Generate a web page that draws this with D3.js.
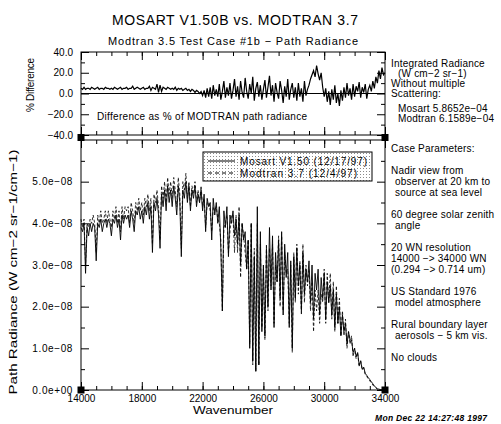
<!DOCTYPE html>
<html>
<head>
<meta charset="utf-8">
<script src="https://cdn.jsdelivr.net/npm/d3@7"></script>
<style>
	body { margin: 0; background: #fff; }
	svg { display: block; font-family: "Liberation Sans", Arial, sans-serif; }
</style>
</head>
<body>
<svg id="chart" width="501" height="424"></svg>
<script>
"use strict";

// spectral grid, 100 WN steps from 14000 to 34000
var wavenumbers = d3.range(14000, 34001, 100);

// path radiance, units of 1e-8 W cm-2 sr-1/cm-1
var mosart = [
	3.9, 3.8, 4.0, 2.8, 3.9, 3.7, 4.0, 3.8, 4.0, 3.9,
	3.1, 4.0, 3.9, 4.1, 3.8, 4.0, 4.1, 3.9, 4.1, 4.0,
	3.7, 4.1, 4.0, 4.2, 3.9, 4.1, 3.6, 4.2, 4.0, 4.2,
	4.1, 4.2, 3.9, 4.3, 4.1, 3.8, 4.3, 4.2, 4.4, 4.1,
	4.3, 4.0, 4.4, 4.2, 4.5, 4.1, 4.4, 3.3, 4.5, 4.3,
	4.6, 4.2, 3.4, 4.7, 4.4, 4.8, 4.3, 4.9, 4.5, 4.8,
	4.4, 4.9, 4.6, 4.2, 4.9, 4.5, 3.2, 4.8, 4.6, 5.0,
	4.5, 4.9, 4.3, 4.8, 4.6, 4.9, 4.4, 4.7, 4.5, 4.8,
	4.3, 4.7, 3.8, 4.6, 4.4, 4.5, 3.6, 4.6, 4.2, 4.5,
	4.0, 4.4, 3.4, 1.9, 4.3, 3.9, 4.4, 3.2, 4.2, 4.0,
	4.3, 3.7, 4.1, 3.5, 4.2, 3.0, 4.0, 3.6, 3.8, 2.9,
	3.6, 1.0, 4.0, 0.7, 3.2, 0.45, 4.4, 0.6, 3.8, 1.4,
	3.0, 1.3, 3.4, 2.0, 3.9, 2.4, 3.7, 1.5, 3.3, 2.6,
	3.6, 2.2, 3.8, 1.8, 3.5, 2.7, 3.3, 1.5, 3.1, 1.0,
	3.2, 2.2, 3.4, 2.5, 3.0, 1.9, 3.3, 2.3, 2.9, 2.6,
	3.1, 2.1, 3.0, 1.7, 2.8, 2.4, 2.9, 1.8, 2.7, 2.2,
	2.8, 1.7, 2.6, 2.1, 2.5, 1.8, 2.4, 1.5, 2.3, 1.6,
	2.0, 1.3, 1.8, 1.4, 1.6, 1.1, 1.4, 1.2, 1.2, 0.9,
	1.0, 0.8, 0.9, 0.6, 0.7, 0.5, 0.55, 0.4, 0.35, 0.3,
	0.25, 0.2, 0.15, 0.1, 0.06, 0.03, 0.02, 0.01, 0.0, 0.0,
	0.0
];
var modtran = [
	4.1, 3.9, 4.1, 3.0, 4.0, 3.9, 4.1, 4.0, 4.2, 4.0,
	3.3, 4.2, 4.0, 4.3, 4.0, 4.1, 4.3, 4.0, 4.3, 4.1,
	3.9, 4.3, 4.1, 4.4, 4.0, 4.3, 3.8, 4.4, 4.1, 4.4,
	4.3, 4.4, 4.0, 4.5, 4.3, 4.0, 4.5, 4.3, 4.6, 4.3,
	4.5, 4.2, 4.6, 4.4, 4.7, 4.3, 4.6, 3.5, 4.7, 4.5,
	4.8, 4.4, 3.6, 4.9, 4.6, 5.0, 4.5, 5.1, 4.7, 5.0,
	4.6, 5.1, 4.8, 4.4, 5.1, 4.7, 3.4, 5.0, 4.8, 5.2,
	4.6, 5.0, 4.4, 4.9, 4.7, 5.0, 4.5, 4.8, 4.5, 4.9,
	4.4, 4.6, 3.9, 4.5, 4.5, 4.3, 3.8, 4.4, 4.3, 4.4,
	4.1, 4.0, 3.6, 1.9, 3.9, 4.0, 4.2, 3.3, 3.8, 4.2,
	4.2, 3.3, 4.2, 3.3, 4.4, 2.7, 4.0, 3.7, 3.3, 2.9,
	3.6, 1.1, 4.0, 0.6, 3.4, 0.45, 4.0, 0.6, 3.5, 1.5,
	2.9, 1.2, 3.5, 1.9, 3.4, 2.5, 3.5, 1.6, 3.0, 2.6,
	3.7, 2.0, 3.7, 1.9, 3.3, 2.8, 2.9, 1.6, 3.0, 0.9,
	3.3, 2.1, 3.5, 2.3, 3.1, 1.8, 3.5, 2.1, 3.0, 2.5,
	2.9, 1.9, 2.6, 1.4, 2.4, 1.9, 2.4, 1.6, 2.3, 2.1,
	2.9, 1.6, 2.8, 2.1, 2.8, 1.7, 2.6, 1.4, 2.5, 1.6,
	2.2, 1.3, 1.9, 1.3, 1.7, 1.0, 1.4, 1.1, 1.3, 0.8,
	1.0, 0.75, 0.9, 0.55, 0.7, 0.48, 0.52, 0.37, 0.33, 0.26,
	0.22, 0.17, 0.12, 0.08, 0.05, 0.02, 0.01, 0.005, 0.0, 0.0,
	0.0
];
// difference as % of MODTRAN path radiance
var pctDiff = [
	5, 4, 6, 4, 5, 5, 4, 6, 5, 4,
	5, 6, 4, 5, 5, 4, 6, 5, 5, 4,
	5, 4, 6, 5, 4, 5, 6, 4, 5, 5,
	6, 4, 5, 5, 7, 4, 5, 6, 5, 4,
	5, 6, 4, 5, 5, 7, 3, 6, 5, 4,
	9, 1, 8, 2, 6, 5, 4, 6, 5, 4,
	5, 4, 6, 3, 5, 4, 5, 3, 4, 5,
	3, 4, 2, 4, 3, 1, 3, 2, 0, 2,
	-2, 3, -4, 5, -3, 6, -5, 8, -2, 4,
	-3, 9, -6, 2, 12, -4, 6, -2, 10, -5,
	3, 14, -3, 7, -6, 12, 1, -4, 15, 2,
	-5, 9, 0, 16, -7, 5, 11, -3, 8, -6,
	4, 13, -4, 6, 17, -2, 8, -8, 10, 1,
	-5, 12, 3, -9, 7, -3, 14, -6, 4, 10,
	-4, 6, -7, 10, -3, 5, -8, 12, -2, 4,
	8, 14, 18, 22, 16, 27, 19, 13, 20, 6,
	-3, 5, -8, 2, -11, 4, -6, 8, -9, 0,
	-12, 3, -7, 6, -4, 10, -2, 5, -6, 9,
	-3, 7, 2, 11, -4, 6, 1, 9, -5, 4,
	8, 2, 12, 5, 16, 10, 22, 14, 25, 18,
	20
];

var xMajor = [14000, 18000, 22000, 26000, 30000, 34000];
var xMinor = d3.range(14000, 34001, 1000);
var diffMajor = [-40, -20, 0, 20, 40];
var diffMinor = [-30, -10, 10, 30];
var radMajor = [0, 1, 2, 3, 4, 5];
var radMinor = [0.5, 1.5, 2.5, 3.5, 4.5, 5.5];

var legendLabels = ['Mosart V1.50 (12/17/97)', 'Modtran 3.7 (12/4/97)'];
var sideText = [
	// [text, x, y]
	['Integrated Radiance', 391, 67],
	['(W cm\u22122 sr\u22121)', 398, 77],
	['Without multiple', 391, 87],
	['Scattering:', 391, 97],
	['Mosart 5.8652e\u221204', 398, 112],
	['Modtran 6.1589e\u221204', 398, 122],
	['Case Parameters:', 391, 152],
	['Nadir view from', 391, 174],
	['observer at 20 km to', 395, 185],
	['source at sea level', 395, 196],
	['60 degree solar zenith', 391, 218],
	['angle', 395, 229],
	['20 WN resolution', 391, 251],
	['14000 \u2212> 34000 WN', 391, 262],
	['(0.294 \u2212> 0.714 um)', 391, 273],
	['US Standard 1976', 391, 295],
	['model atmosphere', 395, 306],
	['Rural boundary layer', 391, 328],
	['aerosols \u2212 5 km vis.', 395, 339],
	['No clouds', 391, 361]
];

var svg = d3.select('#chart');
var sizes = {
	left: 81, right: 385,
	diffTop: 52, diffBottom: 135,
	radTop: 140, radBottom: 390,
	major: 8, minor: 4
};

var x = d3.scaleLinear().domain([14000, 34000]).range([sizes.left, sizes.right]);
var yDiff = d3.scaleLinear().domain([-40, 40]).range([sizes.diffBottom, sizes.diffTop]);
var yRad = d3.scaleLinear().domain([0, 6]).range([sizes.radBottom, sizes.radTop]);

// stipple pattern for the legend box
var defs = svg.append('defs');
defs.append('pattern')
	.attr('id', 'stipple')
	.attr('width', 3).attr('height', 3)
	.attr('patternUnits', 'userSpaceOnUse')
	.append('rect')
	.attr('width', 1).attr('height', 1)
	.attr('fill', '#8a8a8a');

function text(g, str, px, py, opts) {
	opts = opts || {};
	var t = g.append('text')
		.attr('x', px).attr('y', py)
		.attr('font-size', opts.size || 10)
		.attr('text-anchor', opts.anchor || 'start')
		.text(str);
	if (opts.len) t.attr('textLength', opts.len).attr('lengthAdjust', opts.adjust || 'spacing');
	if (opts.rotate) t.attr('transform', 'rotate(-90,' + px + ',' + py + ')');
	if (opts.weight) t.attr('font-weight', opts.weight);
	if (opts.style) t.attr('font-style', opts.style);
	if (opts.family) t.attr('font-family', opts.family);
	return t;
}

// draws inward ticks on all four sides of a panel
function drawFrame(yScale, top, bottom, yMajorV, yMinorV, yFormat, withXLabels) {
	var g = svg.append('g').attr('class', 'frame');
	var defsAxes = [
		[d3.axisTop(x).tickValues(xMajor), 'translate(0,' + top + ')', sizes.major],
		[d3.axisTop(x).tickValues(xMinor), 'translate(0,' + top + ')', sizes.minor],
		[d3.axisBottom(x).tickValues(xMajor), 'translate(0,' + bottom + ')', sizes.major],
		[d3.axisBottom(x).tickValues(xMinor), 'translate(0,' + bottom + ')', sizes.minor],
		[d3.axisLeft(yScale).tickValues(yMajorV), 'translate(' + sizes.left + ',0)', sizes.major],
		[d3.axisLeft(yScale).tickValues(yMinorV), 'translate(' + sizes.left + ',0)', sizes.minor],
		[d3.axisRight(yScale).tickValues(yMajorV), 'translate(' + sizes.right + ',0)', sizes.major],
		[d3.axisRight(yScale).tickValues(yMinorV), 'translate(' + sizes.right + ',0)', sizes.minor]
	];
	defsAxes.forEach(function(d, i) {
		var axis = d[0].tickSize(-d[2]).tickFormat('');
		if (i === 2 && withXLabels) axis.tickFormat(d3.format('d')).tickPadding(5);
		if (i === 4) axis.tickFormat(yFormat).tickPadding(8);
		var ag = g.append('g')
			.attr('class', i === 4 ? 'axis-left' : (i === 2 ? 'axis-bottom' : 'axis'))
			.attr('transform', d[1]).call(axis);
		ag.select('.domain').remove();
		ag.selectAll('line').attr('stroke', '#000');
		ag.selectAll('text')
			.attr('fill', '#000')
			.attr('font-family', '"Liberation Sans", Arial, sans-serif');
	});
	g.append('rect')
		.attr('x', sizes.left).attr('y', top)
		.attr('width', sizes.right - sizes.left)
		.attr('height', bottom - top)
		.attr('fill', 'none')
		.attr('stroke', '#000');
	return g;
}

// titles
text(svg, 'MOSART V1.50B vs. MODTRAN 3.7', 235, 25, { size: 14, anchor: 'middle', len: 246 });
text(svg, 'Modtran 3.5 Test Case #1b \u2212 Path Radiance', 233, 45, { size: 11, anchor: 'middle', len: 250 });

// --- difference panel ---
var diffFrame = drawFrame(yDiff, sizes.diffTop, sizes.diffBottom, diffMajor, diffMinor,
	d3.format('.1f'), false);
diffFrame.selectAll('text').attr('font-size', 10);

svg.append('line')
	.attr('x1', x(14000)).attr('x2', x(34000))
	.attr('y1', yDiff(0)).attr('y2', yDiff(0))
	.attr('stroke', '#000');

var lineDiff = d3.line()
	.x(function(d, i) { return x(wavenumbers[i]); })
	.y(function(d) { return yDiff(d); });
svg.append('path')
	.datum(pctDiff)
	.attr('d', lineDiff)
	.attr('fill', 'none')
	.attr('stroke', '#000')
	.attr('stroke-width', 1.2);

text(svg, 'Difference as % of MODTRAN path radiance', 97, 120, { size: 10, len: 210 });
text(svg, '% Difference', 34, 85, { size: 10, anchor: 'middle', rotate: true, len: 54 });

// --- radiance panel ---
function radFormat(v) {
	return v === 0 ? '0.0e+00' : v.toFixed(1) + 'e\u221208';
}
var radFrame = drawFrame(yRad, sizes.radTop, sizes.radBottom, radMajor, radMinor,
	radFormat, true);
radFrame.selectAll('text').attr('font-size', 10);
radFrame.select('.axis-left').selectAll('text').attr('letter-spacing', 0.6);

var lineRad = d3.line()
	.x(function(d, i) { return x(wavenumbers[i]); })
	.y(function(d) { return yRad(d); });
svg.append('path')
	.datum(modtran)
	.attr('d', lineRad)
	.attr('fill', 'none')
	.attr('stroke', '#000')
	.attr('stroke-width', 0.8)
	.attr('stroke-dasharray', '3,2');
svg.append('path')
	.datum(mosart)
	.attr('d', lineRad)
	.attr('fill', 'none')
	.attr('stroke', '#000')
	.attr('stroke-width', 0.9);

text(svg, 'Path Radiance (W cm\u22122 sr\u22121/cm\u22121)', 17, 272,
	{ size: 11.5, anchor: 'middle', rotate: true, len: 245, adjust: 'spacingAndGlyphs' });
text(svg, 'Wavenumber', 233, 414, { size: 10.5, anchor: 'middle', len: 80, adjust: 'spacingAndGlyphs' });

// legend
var legend = svg.append('g');
legend.append('rect')
	.attr('x', 203).attr('y', 152)
	.attr('width', 169).attr('height', 29)
	.attr('fill', 'url(#stipple)')
	.attr('stroke', '#000');
legendLabels.forEach(function(lbl, i) {
	var ly = 161 + i * 12;
	legend.append('line')
		.attr('x1', 208).attr('x2', 235)
		.attr('y1', ly).attr('y2', ly)
		.attr('stroke', '#000')
		.attr('stroke-dasharray', i ? '4,3' : null);
	text(legend, lbl, 240, ly + 4, { size: 10, len: i ? 117 : 127 });
});

// corner markers
var corners = [[sizes.left, 137.5], [sizes.right, 137.5], [sizes.left, sizes.radBottom], [sizes.right, sizes.radBottom]];
svg.selectAll('.corner').data(corners).enter()
	.append('rect')
	.attr('class', 'corner')
	.attr('x', function(d) { return d[0] - 3.5; })
	.attr('y', function(d) { return d[1] - 3.5; })
	.attr('width', 7).attr('height', 7)
	.attr('fill', '#000');

// side annotations
var side = svg.append('g');
sideText.forEach(function(d) {
	text(side, d[0], d[1], d[2], { size: 10 }).attr('letter-spacing', 0.2);
});

text(svg, 'Mon Dec 22 14:27:48 1997', 431, 421,
	{ size: 8.5, anchor: 'middle', len: 112, weight: 'bold', style: 'italic' });
</script>
</body>
</html>
